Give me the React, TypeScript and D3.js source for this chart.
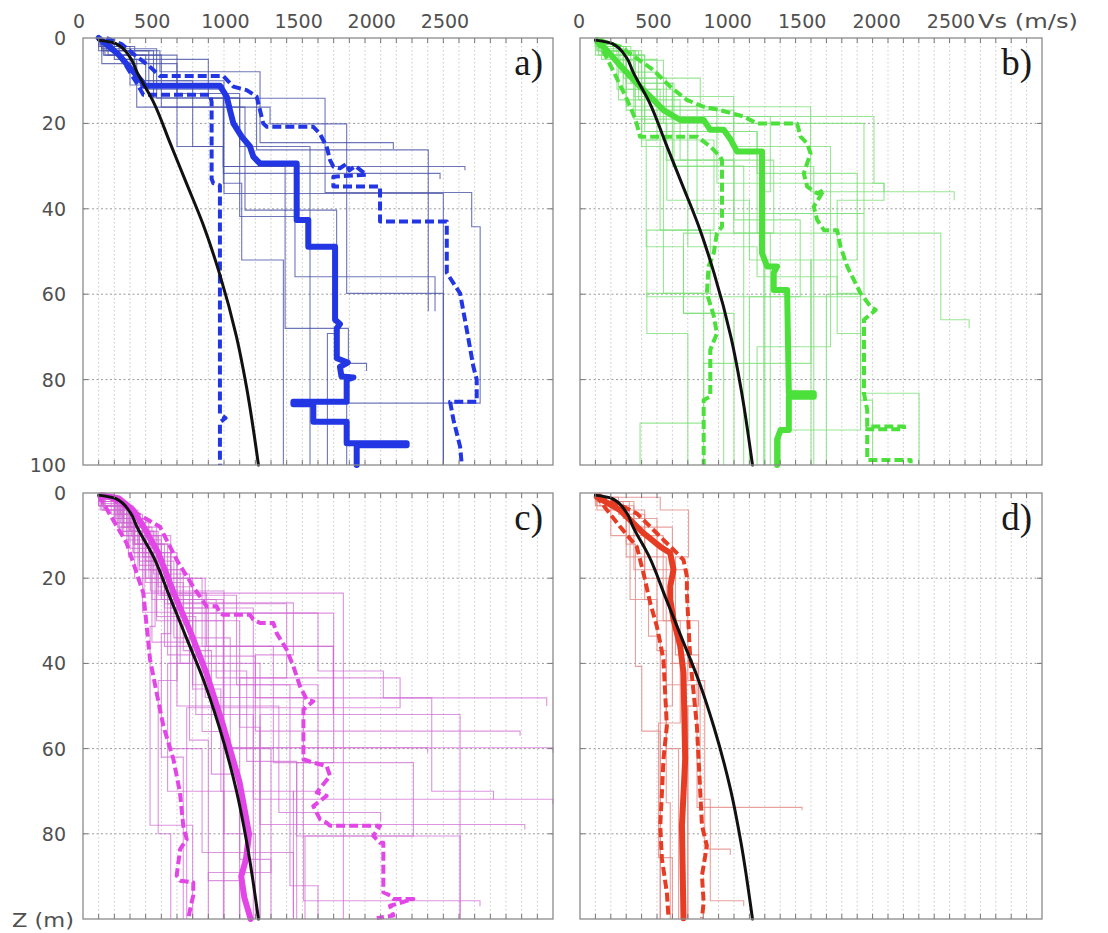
import React from "react";
import * as d3 from "d3";

// ---- axes ----
const VS_DOMAIN = [0, 3000];
const Z_DOMAIN = [0, 100];
const VS_GRID = d3.range(100, 3000, 100);
const Z_GRID = [20, 40, 60, 80];
const VS_TICK_LABELS = [0, 500, 1000, 1500, 2000, 2500];
const Z_LABELS_UPPER = [0, 20, 40, 60, 80, 100];
const Z_LABELS_LOWER = [0, 20, 40, 60, 80];

// ---- reference Vs(z) model, [Vs, z] ----
const REF_CURVE = [
  [100, 0.5], [210, 1.3], [300, 4.5], [345, 8], [450, 15], [555, 24.5], [660, 34],
  [765, 43.5], [870, 55], [980, 70], [1045, 82], [1120, 100],
];

// ---- site profiles: [zTop, Vs] layers, last entry = [zEnd] ----
const PROFILES_A = [
  [[0, 110], [1.5, 230], [5, 800], [14.1, 1545], [36.2, 2481], [44.2, 2535], [85.5, 1683], [100]],
  [[0, 130], [1, 200], [5, 343], [16.2, 1194], [20.1, 1683], [59.8, 2300], [100]],
  [[0, 150], [3, 491], [7.9, 1130], [24.5, 1981], [26]],
  [[0, 120], [2.5, 470], [14.1, 1108], [26.2, 2204], [64]],
  [[0, 100], [3, 420], [12, 896], [30.1, 2438], [31]],
  [[0, 140], [4, 400], [10, 700], [25.4, 896], [31.7, 2279], [33]],
  [[0, 120], [6, 600], [25.4, 896], [34, 1013], [52, 1279], [100]],
  [[0, 160], [4, 500], [16.2, 1034], [40.3, 1619], [69.2, 1560], [100]],
  [[0, 110], [2, 300], [11, 896], [30.1, 1290], [68, 1694], [76.2, 1810], [78]],
  [[0, 130], [4, 600], [13, 1000], [25.4, 1449], [100]],
  [[0, 120], [3, 450], [14, 1000], [41.8, 1353], [55.9, 2247], [64]],
  [[0, 100], [2, 330], [10, 900], [36.4, 2300], [100]],
];
const MEDIAN_A = [
  [100, 0], [150, 1.5], [230, 4], [300, 7], [385, 10.6], [385, 11.2], [874, 11.2], [917, 13.7],
  [938, 16.9], [960, 20], [1013, 23.1], [1066, 25.4], [1087, 27.8], [1130, 29.4], [1364, 29.4],
  [1364, 42.6], [1438, 42.6], [1438, 48.9], [1609, 48.9], [1609, 66], [1640, 67], [1620, 68],
  [1620, 75], [1690, 76], [1640, 77], [1650, 79.3], [1726, 79.5], [1683, 80], [1683, 85.2],
  [1343, 85.2], [1343, 85.8], [1470, 85.8], [1470, 89.9], [1683, 89.9], [1683, 94.9],
  [2066, 94.9], [2066, 95.4], [1747, 95.4], [1747, 100],
];
const LOW_A = [
  [100, 0], [180, 2], [250, 5], [300, 8], [350, 11], [385, 13.3], [811, 13.3], [821, 15],
  [821, 33], [832, 34], [874, 34.5], [874, 88], [910, 89], [874, 90], [874, 100],
];
const HIGH_A = [
  [150, 0], [250, 1.5], [330, 4], [420, 6.5], [491, 8.9], [896, 8.9], [960, 11.4], [1045, 12.2],
  [1108, 13.7], [1130, 16.9], [1150, 20], [1173, 20.8], [1470, 20.8], [1510, 22.3], [1555, 25.4],
  [1577, 28.6], [1598, 30.1], [1640, 30.5], [1680, 29.5], [1700, 31], [1740, 30], [1790, 31.5],
  [1810, 32], [1598, 32.5], [1598, 34.8], [1896, 34.8], [1896, 43], [2322, 43], [2322, 55],
  [2407, 59.8], [2450, 68.4], [2492, 77], [2513, 80], [2513, 85.2], [2343, 85.2], [2365, 89.5],
  [2407, 95.7], [2418, 100],
];

const PROFILES_B = [
  [[0, 110], [1.5, 217], [5.2, 542], [20, 1844], [41.1, 1200], [100]],
  [[0, 120], [2, 282], [9.4, 781], [16.1, 1497], [36, 2430], [38]],
  [[0, 130], [3, 300], [10.6, 600], [18.4, 1909], [34, 1974], [36]],
  [[0, 100], [2, 250], [14.5, 400], [21.9, 1150], [45.7, 2343], [66, 2527], [68]],
  [[0, 140], [3, 350], [13.7, 998], [45.7, 1236], [100]],
  [[0, 120], [4, 400], [23.9, 870], [45, 434], [60.6, 1822], [91.8, 1300], [100]],
  [[0, 150], [2, 300], [16.9, 998], [25.4, 1627], [72.3, 1150], [100]],
  [[0, 110], [3, 380], [14.5, 650], [28.6, 1258], [45.7, 672], [64.5, 933], [100]],
  [[0, 130], [2, 330], [10.6, 610], [30.1, 1518], [100]],
  [[0, 100], [4, 420], [21.9, 1150], [31.7, 1800], [52, 1500], [100]],
  [[0, 140], [5, 500], [16.1, 889], [34, 1974], [38, 1670], [59.8, 1822], [83.2, 2202], [100]],
  [[0, 120], [2, 300], [9.4, 560], [28.6, 1000], [42.6, 1430], [60.6, 1100], [100]],
  [[0, 110], [3, 350], [19, 700], [48.9, 1150], [55.9, 1670], [69.2, 1822], [84.8, 1900], [100]],
  [[0, 130], [2.5, 280], [12, 520], [45, 846], [59.8, 434], [69.2, 700], [100]],
  [[0, 120], [3, 400], [25.4, 542], [59.8, 803], [90.2, 390], [100]],
  [[0, 150], [4, 420], [20, 564], [38, 1100], [52, 1500], [76.2, 803], [100]],
  [[0, 100], [2, 260], [8, 500], [23.9, 430], [48.9, 672], [64.5, 1000], [100]],
  [[0, 140], [3, 360], [18.4, 1236], [36, 1193], [100]],
  [[0, 120], [3, 300], [16, 760], [41.1, 1844], [60, 1600], [100]],
  [[0, 100], [2, 240], [12, 600], [30, 1063], [100]],
];
const MEDIAN_B = [
  [110, 0.5], [152, 2], [250, 6], [369, 10.6], [450, 13.5], [542, 16.9], [651, 19.2], [803, 19.2],
  [846, 21.5], [933, 21.5], [980, 23.9], [1020, 26.6], [1182, 26.6], [1182, 50.4], [1215, 53.5],
  [1280, 53.5], [1258, 55], [1258, 59], [1345, 59], [1356, 83.2], [1518, 83.2], [1518, 84],
  [1356, 84], [1356, 91.8], [1302, 91.8], [1280, 94], [1280, 100],
];
const LOW_B = [
  [100, 0.5], [150, 3], [220, 8], [300, 14], [360, 19], [390, 23.1], [760, 23.1], [846, 25.4],
  [911, 27.8], [922, 28.6], [922, 44.2], [889, 45.7], [868, 50.4], [835, 53.5], [824, 59.8],
  [868, 65], [889, 69.2], [846, 73], [846, 84], [803, 84.8], [803, 100],
];
const HIGH_B = [
  [130, 0.5], [260, 2], [477, 7.5], [586, 11.4], [694, 14.5], [803, 16.1], [911, 16.9],
  [1063, 18.4], [1150, 20], [1410, 20], [1432, 23.1], [1475, 24.7], [1497, 27], [1453, 31.7],
  [1475, 34.8], [1540, 36.4], [1584, 35.6], [1518, 39.5], [1540, 42.6], [1584, 45], [1670, 45],
  [1692, 48.9], [1735, 53.5], [1779, 56.7], [1822, 59.8], [1887, 62.9], [1920, 63.7], [1844, 66],
  [1844, 83.2], [1865, 87.1], [1865, 91], [2104, 91], [2104, 91.6], [1865, 91.6], [1865, 98.8],
  [2147, 98.8], [2147, 99.6],
];

const PROFILES_C = [
  [[0, 110], [2, 200], [6, 330], [12, 500], [23.5, 1662], [52, 2407], [100]],
  [[0, 120], [1.5, 220], [5, 380], [14, 560], [25.8, 1343], [38, 1100], [48.1, 2960], [50]],
  [[0, 100], [3, 260], [8, 420], [18, 640], [28.2, 1500], [41.8, 1917], [48.1, 2226], [70, 2620], [72]],
  [[0, 130], [2, 240], [7, 360], [16, 520], [36, 1598], [52, 1130], [100]],
  [[0, 110], [1, 200], [5, 330], [20, 700], [38.3, 1100], [55.9, 2790], [57]],
  [[0, 120], [3, 300], [9, 460], [31.3, 428], [78, 700], [100]],
  [[0, 100], [2, 250], [6, 380], [15, 600], [30, 896], [59.8, 3000], [61]],
  [[0, 140], [3, 280], [10, 500], [25, 850], [43.4, 2024], [50.4, 662], [100]],
  [[0, 110], [2, 230], [8, 400], [20, 760], [36, 1215], [63.3, 2109], [80.5, 1417], [100]],
  [[0, 120], [4, 330], [12, 520], [27, 1087], [71.9, 3000], [73]],
  [[0, 100], [1.5, 210], [6, 350], [18, 620], [40, 1130], [77.8, 2820], [79]],
  [[0, 130], [3, 300], [9, 480], [22, 700], [45, 1321], [92.2, 1500], [100]],
  [[0, 110], [2, 260], [7, 420], [20, 780], [48, 1407], [95.7, 2534], [97]],
  [[0, 120], [2.5, 280], [8, 440], [25, 896], [100]],
  [[0, 100], [3, 250], [10, 380], [28, 560], [60, 760], [84.4, 1343], [100]],
  [[0, 140], [2, 260], [6, 400], [16, 580], [34, 940], [60, 1200], [89.1, 800], [100]],
  [[0, 110], [4, 320], [14, 600], [30, 1000], [55, 1130], [100]],
  [[0, 120], [2, 230], [9, 450], [19, 680], [40, 540], [70, 900], [100]],
  [[0, 100], [3, 280], [11, 500], [24, 980], [45, 1500], [70, 1343], [100]],
  [[0, 130], [1.5, 200], [7, 360], [17, 560], [33, 500], [62, 640], [100]],
  [[0, 110], [2, 240], [5, 300], [13, 470], [29, 720], [52, 1087], [100]],
  [[0, 120], [3, 310], [10, 560], [27, 800], [41.8, 1045], [63, 1364], [100]],
  [[0, 100], [2, 220], [8, 400], [21, 640], [37, 820], [66, 1000], [86, 1200], [100]],
  [[0, 130], [4, 350], [12, 540], [26, 600], [44, 480], [80, 560], [100]],
  [[0, 110], [2, 250], [9, 430], [23, 900], [50, 1250], [75, 1900], [77]],
  [[0, 120], [3, 290], [15, 440], [35, 680], [58, 800], [91, 1000], [100]],
  [[0, 100], [1, 180], [5, 320], [14, 520], [26, 1300], [43.4, 1000], [100]],
  [[0, 140], [3, 300], [8, 470], [30, 600], [50, 900], [80, 1100], [100]],
  [[0, 110], [2, 230], [6, 360], [18, 540], [38, 760], [56, 917], [59.8, 2200], [61]],
  [[0, 120], [2, 260], [10, 480], [24, 700], [46, 880], [70, 1343], [72]],
  [[0, 100], [2, 210], [7, 390], [23.5, 789], [36, 1598], [52, 1662], [100]],
  [[0, 130], [3, 320], [12, 560], [28.2, 1600], [63.3, 1364], [80.5, 2407], [100]],
];
const MEDIAN_C = [
  [120, 0.5], [230, 1.3], [320, 4], [380, 7.5], [480, 14], [580, 23.5], [690, 33], [790, 42.5],
  [890, 54], [1000, 68], [1060, 80], [1040, 86], [1010, 90], [1030, 95], [1070, 100],
];
const LOW_C = [
  [100, 0.5], [130, 2.4], [279, 11.8], [385, 23.5], [428, 39.1], [470, 46.9], [513, 54.7],
  [577, 62.5], [619, 70.3], [640, 78.1], [662, 81.3], [620, 83.6], [598, 89.8], [620, 91],
  [704, 91.4], [704, 94.5], [694, 96], [672, 99.8],
];
const HIGH_C = [
  [172, 1.2], [491, 7.9], [598, 15.7], [704, 22], [789, 26.6], [853, 26.6], [874, 28.2],
  [896, 28.6], [1066, 28.6], [1087, 29.7], [1130, 30.5], [1215, 30.5], [1236, 32.9], [1300, 36.8],
  [1343, 40.7], [1385, 45.4], [1428, 48.5], [1470, 48.9], [1407, 50.8], [1407, 62.5], [1470, 63.3],
  [1555, 64.1], [1577, 66.4], [1492, 70.3], [1555, 71.1], [1470, 73.5], [1513, 76.6], [1555, 77.4],
  [1577, 78.1], [1896, 78.1], [1853, 80.5], [1896, 82.1], [1917, 82.1], [1917, 93.7], [1960, 94.5],
  [1981, 95.3], [2109, 95.3], [1960, 96.9], [1981, 99.2], [1875, 99.8],
];

const PROFILES_D = [
  [[0, 110], [1, 521], [4, 705], [15, 620], [38, 770], [50, 700], [100]],
  [[0, 100], [2, 200], [10, 325], [25, 445], [33.6, 521], [100]],
  [[0, 120], [2, 280], [6, 500], [30, 770], [50, 700], [100]],
  [[0, 110], [3, 300], [12, 360], [40.7, 401], [55.9, 521], [100]],
  [[0, 130], [2, 320], [10, 540], [30, 651], [54, 510], [85.6, 600], [100]],
  [[0, 120], [2, 350], [8, 600], [40, 760], [73.8, 1442], [74.5]],
  [[0, 100], [3, 300], [15, 560], [45, 780], [71.9, 846], [95.7, 1063], [97]],
  [[0, 110], [4, 420], [20, 600], [50, 560], [72.7, 586], [100]],
  [[0, 130], [3, 350], [18, 700], [44, 810], [83.6, 976], [85]],
  [[0, 100], [1, 250], [5, 420], [25, 500], [37, 560], [60, 640], [100]],
];
const MEDIAN_D = [
  [109, 0.9], [260, 4], [412, 9.4], [521, 12.6], [586, 14.1], [607, 18], [586, 21.9], [586, 25],
  [607, 29.7], [651, 36], [672, 42.2], [683, 62.5], [662, 78.1], [672, 99.8],
];
const LOW_D = [
  [100, 0.5], [260, 7.9], [369, 12.6], [412, 18.8], [456, 25.8], [499, 31.3], [521, 35.2],
  [542, 39.1], [553, 46.9], [564, 54.7], [542, 62.5], [532, 70.3], [521, 78.1], [532, 85.9],
  [564, 93.8], [575, 99.8],
];
const HIGH_D = [
  [120, 0.5], [239, 2.4], [369, 4.8], [456, 7.9], [542, 11], [607, 13.3], [672, 15.7], [694, 19.6],
  [694, 23.5], [705, 31.3], [716, 39.1], [738, 46.9], [759, 54.7], [770, 62.5], [781, 70.3],
  [792, 78.1], [824, 82.8], [792, 89.8], [803, 96.1], [792, 99.8],
];

type Pt = number[];

function stepPoints(profile: number[][]): Pt[] {
  const pts: Pt[] = [];
  for (let i = 0; i < profile.length - 1; i++) {
    pts.push([profile[i][1], profile[i][0]]);
    pts.push([profile[i][1], profile[i + 1][0]]);
  }
  return pts;
}

const SANS = "'DejaVu Sans', Verdana, sans-serif";
const SERIF = "'Liberation Serif', 'Times New Roman', serif";

function Panel(props: any) {
  const { x0, x1, y0, y1, letter, profiles, median, low, high, thin, thick, thinOpacity } = props;
  const x = d3.scaleLinear().domain(VS_DOMAIN).range([x0, x1]);
  const y = d3.scaleLinear().domain(Z_DOMAIN).range([y0, y1]);
  const line = d3.line<Pt>().x((d) => x(d[0])).y((d) => y(d[1]));
  const smooth = d3.line<Pt>().x((d) => x(d[0])).y((d) => y(d[1])).curve(d3.curveMonotoneY);

  return (
    <g>
      {VS_GRID.map((v) => (
        <line key={"gv" + v} x1={x(v)} x2={x(v)} y1={y0} y2={y1}
          stroke="#c9c9c9" strokeWidth={1} strokeDasharray="1.5 2.5" />
      ))}
      {Z_GRID.map((z) => (
        <line key={"gz" + z} x1={x0} x2={x1} y1={y(z)} y2={y(z)}
          stroke="#9a9a9a" strokeWidth={1} strokeDasharray="2 2.5" />
      ))}
      {profiles.map((p: number[][], i: number) => (
        <path key={"p" + i} d={line(stepPoints(p)) || ""} fill="none"
          stroke={thin} strokeOpacity={thinOpacity} strokeWidth={1.1} />
      ))}
      <path d={line(low) || ""} fill="none" stroke={thick} strokeWidth={4}
        strokeDasharray="9 4" strokeLinejoin="round" />
      <path d={line(high) || ""} fill="none" stroke={thick} strokeWidth={4}
        strokeDasharray="9 4" strokeLinejoin="round" />
      <path d={line(median) || ""} fill="none" stroke={thick} strokeWidth={6}
        strokeLinejoin="round" strokeLinecap="round" />
      <path d={smooth(REF_CURVE) || ""} fill="none" stroke="#111" strokeWidth={3}
        strokeLinecap="round" />
      {VS_GRID.map((v) => (
        <g key={"t" + v}>
          <line x1={x(v)} x2={x(v)} y1={y1} y2={y1 - 5} stroke="#777" strokeWidth={1} />
          <line x1={x(v)} x2={x(v)} y1={y0} y2={y0 + 5} stroke="#777" strokeWidth={1} />
        </g>
      ))}
      {Z_GRID.map((z) => (
        <g key={"tz" + z}>
          <line x1={x0} x2={x0 + 5} y1={y(z)} y2={y(z)} stroke="#777" strokeWidth={1} />
          <line x1={x1} x2={x1 - 5} y1={y(z)} y2={y(z)} stroke="#777" strokeWidth={1} />
        </g>
      ))}
      <rect x={x0} y={y0} width={x1 - x0} height={y1 - y0} fill="none" stroke="#8a8a8a" strokeWidth={1.3} />
      <text x={x1 - 10} y={y0 + 37} textAnchor="end" fontFamily={SERIF} fontSize={37} fill="#1a1a1a">
        {letter}
      </text>
    </g>
  );
}

export default function App() {
  const upperY = d3.scaleLinear().domain(Z_DOMAIN).range([38, 465]);
  const lowerY = d3.scaleLinear().domain(Z_DOMAIN).range([493, 919]);
  const labelA = d3.scaleLinear().domain([0, 2500]).range([79, 445]);
  const labelB = d3.scaleLinear().domain([0, 2500]).range([579, 951]);

  return (
    <svg width={1108} height={933} style={{ position: "absolute", left: 0, top: 0, background: "#fff" }}>
      <rect x={0} y={0} width={1108} height={933} fill="#fff" />
      <Panel x0={83} x1={553} y0={38} y1={465} letter="a)" profiles={PROFILES_A}
        median={MEDIAN_A} low={LOW_A} high={HIGH_A} thin="#4a54a6" thick="#2236e4" thinOpacity={0.8} />
      <Panel x0={580} x1={1042} y0={38} y1={465} letter="b)" profiles={PROFILES_B}
        median={MEDIAN_B} low={LOW_B} high={HIGH_B} thin="#7fe07b" thick="#4be03a" thinOpacity={0.8} />
      <Panel x0={83} x1={553} y0={493} y1={919} letter="c)" profiles={PROFILES_C}
        median={MEDIAN_C} low={LOW_C} high={HIGH_C} thin="#cf66d2" thick="#e246e6" thinOpacity={0.7} />
      <Panel x0={580} x1={1042} y0={493} y1={919} letter="d)" profiles={PROFILES_D}
        median={MEDIAN_D} low={LOW_D} high={HIGH_D} thin="#e48a86" thick="#e63c23" thinOpacity={0.8} />

      <g fontFamily={SANS} fontSize={19} fill="#505050">
        {VS_TICK_LABELS.map((v) => (
          <text key={"la" + v} x={labelA(v)} y={28} textAnchor="middle">{v}</text>
        ))}
        {VS_TICK_LABELS.map((v) => (
          <text key={"lb" + v} x={labelB(v)} y={28} textAnchor="middle">{v}</text>
        ))}
        <text x={978} y={28} textLength={100} lengthAdjust="spacingAndGlyphs">Vs (m/s)</text>
        {Z_LABELS_UPPER.map((z) => (
          <text key={"zu" + z} x={66} y={upperY(z) + 7} textAnchor="end">{z}</text>
        ))}
        {Z_LABELS_LOWER.map((z) => (
          <text key={"zl" + z} x={66} y={lowerY(z) + 7} textAnchor="end">{z}</text>
        ))}
        <text x={12} y={927} textLength={62} lengthAdjust="spacingAndGlyphs">Z (m)</text>
      </g>
    </svg>
  );
}
